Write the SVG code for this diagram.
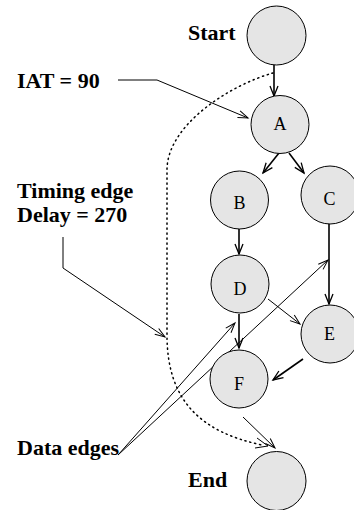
<svg xmlns="http://www.w3.org/2000/svg" width="354" height="510" viewBox="0 0 354 510">
<style>
.node{fill:#e5e5e5;stroke:#000;stroke-width:1}
.lbl{font-family:"Liberation Serif","Times New Roman",serif;font-weight:bold;font-size:22px;fill:#000}
.nl{font-family:"Liberation Serif","Times New Roman",serif;font-size:18px;fill:#000;text-anchor:middle}
.e{fill:none;stroke:#000;stroke-width:1.6;marker-end:url(#ah)}
.p{fill:none;stroke:#000;stroke-width:1;marker-end:url(#ah2)}
.t{fill:none;stroke:#000;stroke-width:1.5;stroke-dasharray:1.2 3.8;stroke-linecap:round}
</style>
<defs>
<marker id="ah" markerUnits="userSpaceOnUse" markerWidth="14" markerHeight="12" refX="11" refY="5" orient="auto">
<path d="M1,1 L11,5 L1,9" fill="none" stroke="#000" stroke-width="1.3"/>
</marker>
<marker id="ah2" markerUnits="userSpaceOnUse" markerWidth="14" markerHeight="12" refX="11" refY="5" orient="auto">
<path d="M1,1.5 L11,5 L1,8.5" fill="none" stroke="#000" stroke-width="1"/>
</marker>
</defs>
<g id="connectors">
<path class="e" d="M274,65 L274,96"/>
<path class="e" d="M279,153 L263,173"/>
<path class="e" d="M289,153 L304,173"/>
<path class="e" d="M239,229 L239,254"/>
<path class="e" d="M329,223 L329,304"/>
<path class="p" d="M268,299 L300,324"/>
<path class="e" d="M239,314 L239,348"/>
<path class="e" d="M303,359 L273,380"/>
<path class="p" d="M243,417 L275,448"/>
<path class="t" d="M273,73 C230,85 167,125 167,170 L167,335 C167,400 200,432 262,445"/>
<path d="M257,438 L268,446 L255,448" fill="none" stroke="#000" stroke-width="1"/>
<path class="p" d="M118,80 L157,80 L248,118"/>
<path class="p" d="M63,237 L63,268 L165,337"/>
<path class="p" d="M118,455 L235,323"/>
<path class="p" d="M118,455 L328,260"/>
</g>
<g id="start"><circle class="node" cx="276.5" cy="35.5" r="29.5"/></g>
<g id="A"><circle class="node" cx="280" cy="124.5" r="29"/><text class="nl" x="280" y="129.5">A</text></g>
<g id="B"><circle class="node" cx="239.5" cy="200" r="29"/><text class="nl" x="239.5" y="209">B</text></g>
<g id="C"><circle class="node" cx="330" cy="195" r="29"/><text class="nl" x="329.5" y="205">C</text></g>
<g id="D"><circle class="node" cx="240" cy="284" r="29"/><text class="nl" x="240" y="295">D</text></g>
<g id="E"><circle class="node" cx="330" cy="334" r="29"/><text class="nl" x="329.5" y="340">E</text></g>
<g id="F"><circle class="node" cx="239" cy="379" r="29"/><text class="nl" x="239" y="390">F</text></g>
<g id="end"><circle class="node" cx="276.5" cy="481" r="29.5"/></g>
<g id="labels">
<text class="lbl" x="17" y="88">IAT = 90</text>
<text class="lbl" x="188" y="39.5">Start</text>
<text class="lbl" x="17" y="197.5">Timing edge</text>
<text class="lbl" x="17" y="222">Delay = 270</text>
<text class="lbl" x="17" y="455">Data edges</text>
<text class="lbl" x="188" y="486.5">End</text>
</g>
</svg>
